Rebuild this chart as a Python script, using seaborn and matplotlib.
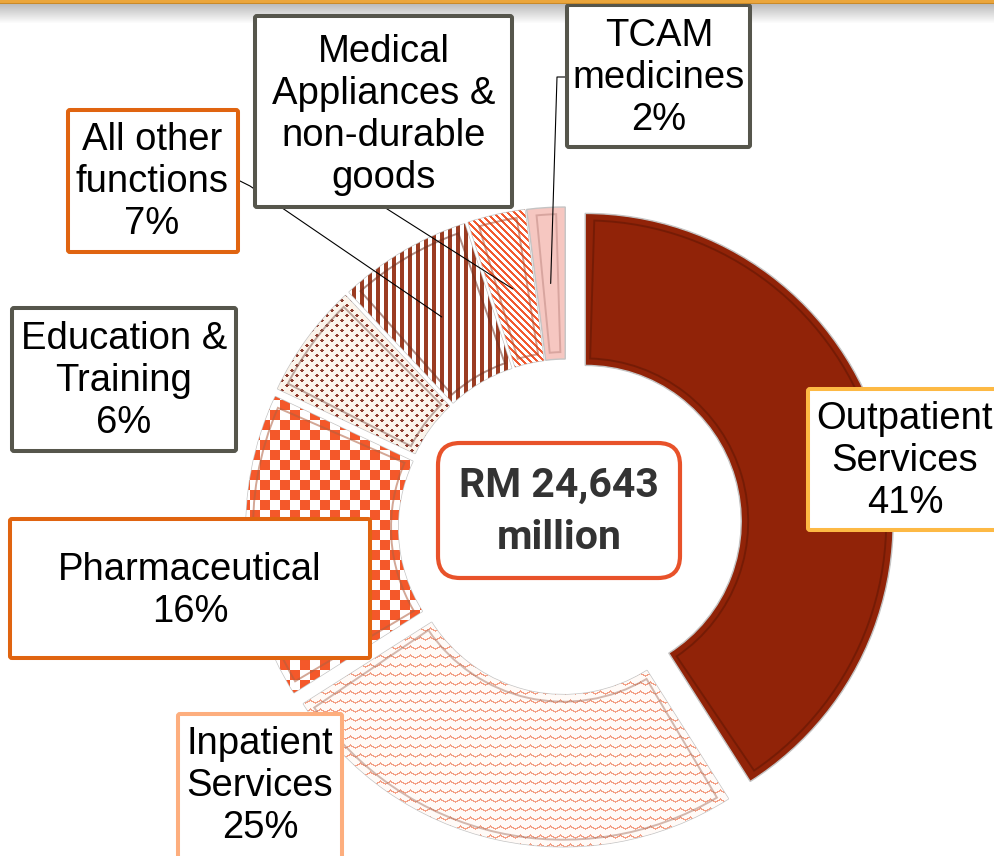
import numpy as np
import matplotlib
matplotlib.use("Agg")
import matplotlib.pyplot as plt
from matplotlib.patches import Wedge, FancyBboxPatch
import seaborn as sns

# ---- data ----
categories = ["Outpatient Services", "Inpatient Services", "Pharmaceutical",
              "Education & Training", "All other functions",
              "Medical Appliances & non-durable goods", "TCAM medicines"]
shares = [41, 25, 16, 6, 7, 3, 2]
box_text = ["Outpatient\nServices", "Inpatient\nServices", "Pharmaceutical",
            "Education &\nTraining", "All other\nfunctions",
            "Medical\nAppliances &\nnon-durable\ngoods", "TCAM\nmedicines"]
show_pct = [True, True, True, True, True, False, True]
total_text = "RM 24,643\nmillion"

W, H = 994, 856

sns.set_theme(style="white")
plt.rcParams["font.family"] = ["Liberation Sans", "DejaVu Sans"]

fig = plt.figure(figsize=(W / 100, H / 100), dpi=100)
ax = fig.add_axes([0, 0, 1, 1])

# ---- donut ----
CX, CY = 566, H - 527
R, RIN = 308, 156
explode = [20, 12, 12, 12, 12, 12, 12]
base_cols = ["#912308", "#FFFFFF", "#FFFFFF", "#FBF3EA", "#FFFFFF", "#FFFFFF", "#F6C7C1"]

wedges, _ = ax.pie(shares, radius=R, center=(CX, CY), startangle=90,
                   counterclock=False, explode=explode, colors=base_cols,
                   wedgeprops=dict(width=R - RIN, linewidth=1.0, edgecolor="#C4C4C4"))

# pixel textures (row 0 = top of picture)
yy, xx = np.mgrid[0:H, 0:W].astype(float)


def tex(mask, fg, bg="#FFFFFF"):
    fg = np.array(matplotlib.colors.to_rgb(fg))
    bg = np.array(matplotlib.colors.to_rgb(bg))
    return np.where(mask[..., None], fg, bg)


zig = np.abs((xx % 10) - 5) * 0.6
textures = [
    None,
    tex(((yy + zig) % 9) < 1.6, "#F3A086", "#FFFAF7"),
    tex(((xx // 10 + yy // 10) % 2) == 0, "#F4582A"),
    tex((((xx + yy) % 10) < 4) & (((xx - yy) % 10) < 4), "#8E3B2E", "#FBF3EA"),
    tex((xx % 8) < 3.5, "#9B3C22"),
    tex(((xx - yy) % 7) < 3, "#F25A30"),
    None,
]
for w, t in zip(wedges, textures):
    if t is not None:
        im = ax.imshow(t, extent=(0, W, 0, H), origin="upper", zorder=1.5,
                       interpolation="nearest")
        im.set_clip_path(w)

# bevel look: inset outline on every wedge
bevel_cols = ["#5E1604", "#B08070", "#B06040", "#8E6A60", "#6E3020", "#B05030", "#C08A84"]
for w, bc in zip(wedges, bevel_cols):
    inset = 7
    rm = (w.r + (w.r - w.width)) / 2
    d = np.degrees(inset / rm)
    iw = Wedge(w.center, w.r - inset, w.theta1 + d, w.theta2 - d,
               width=w.width - 2 * inset, facecolor="none", edgecolor=bc,
               linewidth=1.4, alpha=0.55, zorder=2)
    ax.add_patch(iw)
    w.set_zorder(1)

# ---- centre total ----
ax.add_patch(FancyBboxPatch((438, H - 578), 242, 135,
                            boxstyle="round,pad=0,rounding_size=22",
                            facecolor="white", edgecolor="#E8522A",
                            linewidth=3, zorder=4))
ax.text(559, H - 512, total_text, ha="center", va="center", fontsize=29.5,
        fontweight="bold", family=["Roboto", "DejaVu Sans"], color="#333333",
        linespacing=1.45, zorder=5)

# ---- label boxes (x0, y_top, x1, y_bottom in picture pixels) ----
boxes = [(808, 389, 1000, 530), (178, 714, 342, 870), (10, 519, 370, 658),
         (12, 308, 236, 451), (68, 110, 238, 252), (255, 16, 512, 207),
         (567, 5, 750, 147)]
box_edges = ["#FDB944", "#FDAE7E", "#E06410", "#56564C", "#E06410", "#56564C", "#56564C"]
text_pos = [(905, 461), (260, 786), (190, 591), (124, 381), (152, 182),
            (384, 115), (659, 78)]

for (x0, y0, x1, y1), ec, (tx, ty), txt, pct, show in zip(
        boxes, box_edges, text_pos, box_text, shares, show_pct):
    ax.add_patch(FancyBboxPatch((x0, H - y1), x1 - x0, y1 - y0,
                                boxstyle="round,pad=0,rounding_size=2",
                                facecolor="white", edgecolor=ec,
                                linewidth=2.9, zorder=6))
    label = f"{txt}\n{pct}%" if show else txt
    ax.text(tx, H - ty, label, ha="center", va="center", fontsize=27.5,
            color="black", linespacing=1.22, zorder=7)

# leader lines for the thin slices
leaders = {4: [(238, 180), (250, 186)], 5: [(384, 207)], 6: [(567, 77), (557, 77)]}
for i, pts in leaders.items():
    w = wedges[i]
    tm = np.radians((w.theta1 + w.theta2) / 2)
    rm = w.r - w.width / 2
    ex = w.center[0] + rm * np.cos(tm)
    ey = w.center[1] + rm * np.sin(tm)
    xs = [p[0] for p in pts] + [ex]
    ys = [H - p[1] for p in pts] + [ey]
    ax.plot(xs, ys, color="black", linewidth=0.8, zorder=5)

# ---- header strip: gold rule on top, soft grey shadow behind everything ----
shade = np.linspace(0.74, 1.0, 20)[:, None, None] * np.ones((1, 1, 3))
ax.imshow(shade, extent=(0, W, H - 24, H - 4), origin="upper", aspect="auto", zorder=0)
rule = np.ones((4, 1, 3))
rule[0:3] = matplotlib.colors.to_rgb("#EBA63C")
rule[3] = matplotlib.colors.to_rgb("#C98A2A")
ax.imshow(rule, extent=(0, W, H - 4, H), origin="upper", aspect="auto", zorder=8)

ax.set_xlim(0, W)
ax.set_ylim(0, H)
ax.set_aspect("equal")
ax.axis("off")

fig.savefig("out.png", dpi=100)
